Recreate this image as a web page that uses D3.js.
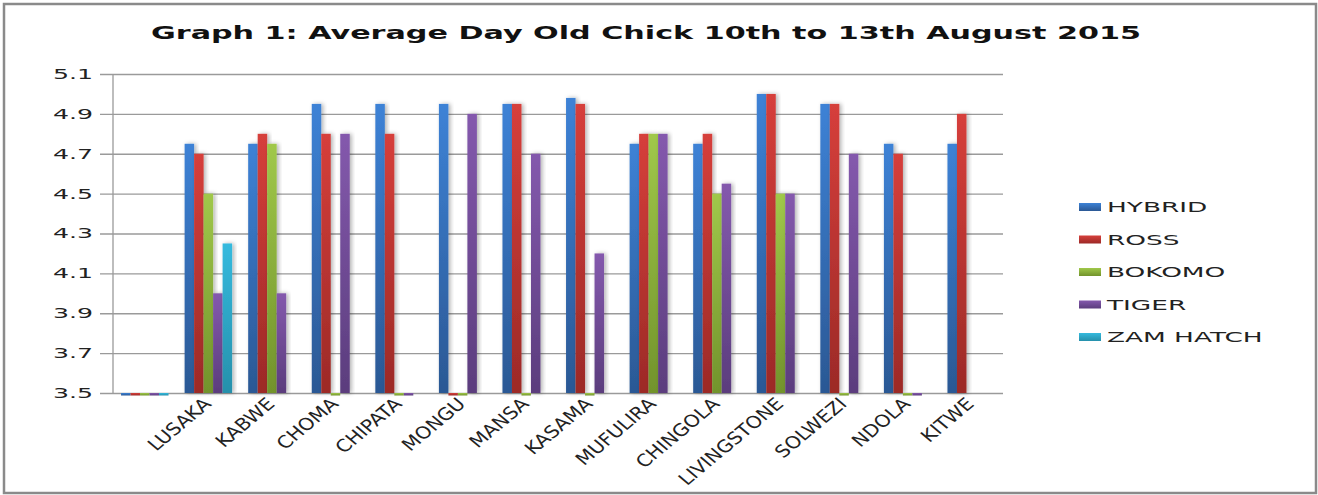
<!DOCTYPE html>
<html>
<head>
<meta charset="utf-8">
<script src="https://cdn.jsdelivr.net/npm/d3@7"></script>
<style>
  body { margin: 0; background: #fff; }
  text { font-family: "DejaVu Sans", Verdana, sans-serif; }
</style>
</head>
<body>
<svg id="chart"></svg>
<script>
'use strict';

var categories = ['', 'LUSAKA', 'KABWE', 'CHOMA', 'CHIPATA', 'MONGU', 'MANSA', 'KASAMA',
  'MUFULIRA', 'CHINGOLA', 'LIVINGSTONE', 'SOLWEZI', 'NDOLA', 'KITWE'];

// 0 = value below axis min (drawn as a stub on the baseline), null = no value
var hybrid   = [0, 4.75, 4.75, 4.95, 4.95, 4.95, 4.95, 4.98, 4.75, 4.75, 5.0, 4.95, 4.75, 4.75];
var ross     = [0, 4.7, 4.8, 4.8, 4.8, 0, 4.95, 4.95, 4.8, 4.8, 5.0, 4.95, 4.7, 4.9];
var bokomo   = [0, 4.5, 4.75, 0, 0, 0, 0, 0, 4.8, 4.5, 4.5, 0, 0, null];
var tiger    = [0, 4.0, 4.0, 4.8, 0, 4.9, 4.7, 4.2, 4.8, 4.55, 4.5, 4.7, 0, null];
var zamHatch = [0, 4.25, null, null, null, null, null, null, null, null, null, null, null, null];

var seriesNames = ['HYBRID', 'ROSS', 'BOKOMO', 'TIGER', 'ZAM HATCH'];
var seriesValues = [hybrid, ross, bokomo, tiger, zamHatch];
var yTicks = [3.5, 3.7, 3.9, 4.1, 4.3, 4.5, 4.7, 4.9, 5.1];

var colors = {
  'HYBRID':    ['#3d82d6', '#2b5894'],
  'ROSS':      ['#d63f3b', '#9c2a27'],
  'BOKOMO':    ['#a0c84a', '#72932c'],
  'TIGER':     ['#8459ad', '#5b3d7d'],
  'ZAM HATCH': ['#35bade', '#2690ab']
};

var width = 1318, height = 495;
var plot = { left: 113, right: 1003, top: 74, bottom: 393 };

var svg = d3.select('#chart')
  .attr('width', width)
  .attr('height', height);

var defs = svg.append('defs');
seriesNames.forEach((s, i) => {
  var grad = defs.append('linearGradient')
    .attr('id', 'grad' + i)
    .attr('x1', 0).attr('y1', 0).attr('x2', 0).attr('y2', 1);
  grad.append('stop').attr('offset', '0%').attr('stop-color', colors[s][0]);
  grad.append('stop').attr('offset', '100%').attr('stop-color', colors[s][1]);
});
var shadow = defs.append('filter').attr('id', 'shadow')
  .attr('x', '-50%').attr('y', '-10%').attr('width', '200%').attr('height', '120%');
shadow.append('feDropShadow')
  .attr('dx', 2).attr('dy', 0)
  .attr('stdDeviation', 2.2)
  .attr('flood-color', '#000')
  .attr('flood-opacity', 0.3);

// outer frame
svg.append('rect')
  .attr('x', 4).attr('y', 4)
  .attr('width', 1312).attr('height', 489)
  .attr('fill', '#fff')
  .attr('stroke', '#8a8a8a')
  .attr('stroke-width', 2.5);

function stretch(sel, k) {
  sel.each(function() {
    var w = this.getComputedTextLength();
    d3.select(this).attr('textLength', w * k).attr('lengthAdjust', 'spacingAndGlyphs');
  });
}

var x0 = d3.scaleBand()
  .domain(categories.map((c, i) => i))
  .range([plot.left, plot.right])
  .paddingInner(0.253)
  .paddingOuter(0.1265);

var x1 = d3.scaleBand()
  .domain(seriesNames)
  .range([0, x0.bandwidth()]);

var y = d3.scaleLinear()
  .domain([3.5, 5.1])
  .range([plot.bottom, plot.top]);

// gridlines + y axis
var yAxis = d3.axisLeft(y)
  .tickValues(yTicks)
  .tickFormat(d3.format('.1f'))
  .tickSize(-(plot.right - plot.left))
  .tickPadding(20);

var gy = svg.append('g')
  .attr('transform', 'translate(' + plot.left + ',0)')
  .call(yAxis);
gy.select('.domain').remove();
gy.selectAll('.tick line')
  .attr('x1', -13)
  .attr('stroke', '#9a9a9a')
  .attr('stroke-width', 1.3);
gy.selectAll('.tick text')
  .attr('fill', '#222')
  .style('font-size', '14px')
  .call(stretch, 1.8);

svg.append('line')
  .attr('x1', plot.left).attr('x2', plot.left)
  .attr('y1', plot.top).attr('y2', plot.bottom)
  .attr('stroke', '#9a9a9a')
  .attr('stroke-width', 1.3);

// bars
var groups = svg.append('g').selectAll('g')
  .data(categories)
  .enter()
  .append('g')
  .attr('transform', (d, i) => 'translate(' + x0(i) + ',0)');

groups.selectAll('rect')
  .data((d, i) => seriesNames.map((s, j) => ({ series: s, idx: j, value: seriesValues[j][i] })))
  .enter()
  .filter(d => d.value !== null)
  .append('rect')
  .attr('x', d => x1(d.series))
  .attr('width', x1.bandwidth())
  .attr('y', d => d.value > 3.5 ? y(d.value) : plot.bottom)
  .attr('height', d => d.value > 3.5 ? plot.bottom - y(d.value) : 2.5)
  .attr('fill', d => 'url(#grad' + d.idx + ')')
  .attr('filter', d => d.value > 3.5 ? 'url(#shadow)' : null);

// category labels
svg.append('g').selectAll('text')
  .data(categories)
  .enter()
  .append('text')
  .attr('transform', (d, i) => 'translate(' + (x0(i) + x0.bandwidth() / 2 + 4) + ',' + (plot.bottom + 12) + ') scale(1.2,1) rotate(-45)')
  .attr('text-anchor', 'end')
  .attr('fill', '#222')
  .style('font-size', '17px')
  .text(d => d);

// title
svg.append('text')
  .attr('x', 646)
  .attr('y', 39)
  .attr('text-anchor', 'middle')
  .attr('fill', '#111')
  .style('font-size', '18px')
  .style('font-weight', 'bold')
  .attr('textLength', 990)
  .attr('lengthAdjust', 'spacingAndGlyphs')
  .text('Graph 1: Average Day Old Chick 10th to 13th August 2015');

// legend
var legend = svg.append('g').selectAll('g')
  .data(seriesNames)
  .enter()
  .append('g')
  .attr('transform', (d, i) => 'translate(1079,' + (207 + i * 32.5) + ')');
legend.append('rect')
  .attr('x', 0).attr('y', -4)
  .attr('width', 22).attr('height', 8)
  .attr('fill', (d, i) => 'url(#grad' + i + ')');
legend.append('text')
  .attr('x', 28)
  .attr('y', 5)
  .attr('fill', '#222')
  .style('font-size', '13.5px')
  .text(d => d)
  .call(stretch, 1.95);
</script>
</body>
</html>
